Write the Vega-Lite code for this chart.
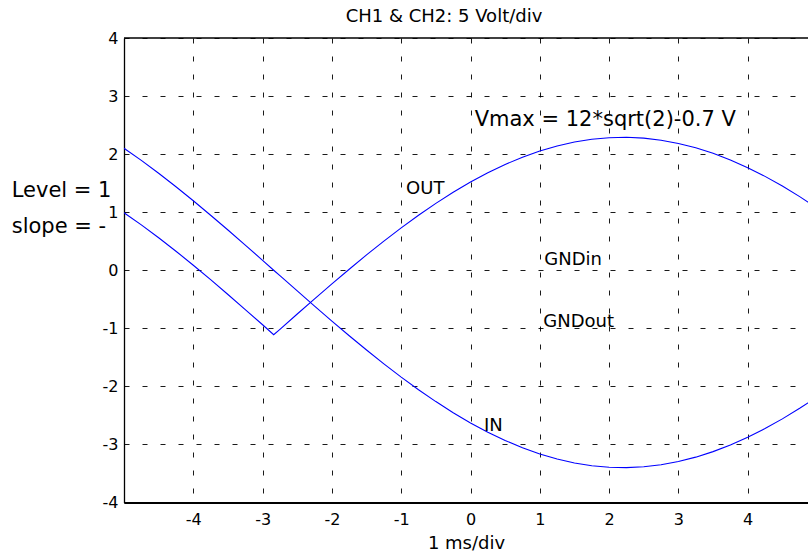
{
  "$schema": "https://vega.github.io/schema/vega-lite/v6.json",
  "autosize": "none",
  "padding": {"left": 124, "top": 38, "right": 0, "bottom": 54},
  "width": 684,
  "height": 464.5,
  "background": "white",
  "title": {
    "text": "CH1 & CH2: 5 Volt/div",
    "font": "DejaVu Sans",
    "fontSize": 18,
    "fontWeight": "normal",
    "color": "black",
    "anchor": "middle",
    "dx": -22,
    "offset": 4
  },
  "config": {
    "font": "DejaVu Sans",
    "view": {"stroke": null},
    "axis": {
      "labelFont": "DejaVu Sans",
      "labelFontSize": 16,
      "labelColor": "black",
      "labelExpr": "'' + datum.value",
      "titleFont": "DejaVu Sans",
      "titleFontSize": 18,
      "titleFontWeight": "normal",
      "titleColor": "black",
      "domainColor": "black",
      "gridColor": "black",
      "gridOpacity": 1,
      "gridWidth": 0.9,
      "gridDash": [5, 13],
      "ticks": false
    }
  },
  "datasets": {
    "traces": [
      {"t": -5, "v": 2.10, "s": "IN"}, {"t": -4.75, "v": 1.892, "s": "IN"}, {"t": -4.5, "v": 1.670, "s": "IN"}, {"t": -4.25, "v": 1.438, "s": "IN"},
      {"t": -4, "v": 1.197, "s": "IN"}, {"t": -3.75, "v": 0.948, "s": "IN"}, {"t": -3.5, "v": 0.693, "s": "IN"}, {"t": -3.25, "v": 0.433, "s": "IN"},
      {"t": -3, "v": 0.171, "s": "IN"}, {"t": -2.84, "v": 0.0, "s": "IN"}, {"t": -2.75, "v": -0.093, "s": "IN"}, {"t": -2.5, "v": -0.356, "s": "IN"},
      {"t": -2.25, "v": -0.618, "s": "IN"}, {"t": -2, "v": -0.876, "s": "IN"}, {"t": -1.75, "v": -1.128, "s": "IN"}, {"t": -1.5, "v": -1.374, "s": "IN"},
      {"t": -1.25, "v": -1.612, "s": "IN"}, {"t": -1, "v": -1.840, "s": "IN"}, {"t": -0.75, "v": -2.057, "s": "IN"}, {"t": -0.5, "v": -2.262, "s": "IN"},
      {"t": -0.25, "v": -2.453, "s": "IN"}, {"t": 0, "v": -2.629, "s": "IN"}, {"t": 0.25, "v": -2.789, "s": "IN"}, {"t": 0.5, "v": -2.932, "s": "IN"},
      {"t": 0.75, "v": -3.057, "s": "IN"}, {"t": 1, "v": -3.164, "s": "IN"}, {"t": 1.25, "v": -3.251, "s": "IN"}, {"t": 1.5, "v": -3.319, "s": "IN"},
      {"t": 1.75, "v": -3.366, "s": "IN"}, {"t": 2, "v": -3.393, "s": "IN"}, {"t": 2.25, "v": -3.400, "s": "IN"}, {"t": 2.5, "v": -3.385, "s": "IN"},
      {"t": 2.75, "v": -3.350, "s": "IN"}, {"t": 3, "v": -3.294, "s": "IN"}, {"t": 3.25, "v": -3.219, "s": "IN"}, {"t": 3.5, "v": -3.124, "s": "IN"},
      {"t": 3.75, "v": -3.010, "s": "IN"}, {"t": 4, "v": -2.877, "s": "IN"}, {"t": 4.25, "v": -2.727, "s": "IN"}, {"t": 4.5, "v": -2.560, "s": "IN"},
      {"t": 4.75, "v": -2.378, "s": "IN"}, {"t": 5, "v": -2.182, "s": "IN"},
      {"t": -5, "v": 0.99, "s": "OUT"}, {"t": -4.75, "v": 0.782, "s": "OUT"}, {"t": -4.5, "v": 0.560, "s": "OUT"}, {"t": -4.25, "v": 0.328, "s": "OUT"},
      {"t": -4, "v": 0.087, "s": "OUT"}, {"t": -3.75, "v": -0.162, "s": "OUT"}, {"t": -3.5, "v": -0.417, "s": "OUT"}, {"t": -3.25, "v": -0.677, "s": "OUT"},
      {"t": -3, "v": -0.939, "s": "OUT"}, {"t": -2.84, "v": -1.11, "s": "OUT"}, {"t": -2.75, "v": -1.017, "s": "OUT"}, {"t": -2.5, "v": -0.754, "s": "OUT"},
      {"t": -2.25, "v": -0.492, "s": "OUT"}, {"t": -2, "v": -0.234, "s": "OUT"}, {"t": -1.75, "v": 0.018, "s": "OUT"}, {"t": -1.5, "v": 0.264, "s": "OUT"},
      {"t": -1.25, "v": 0.502, "s": "OUT"}, {"t": -1, "v": 0.730, "s": "OUT"}, {"t": -0.75, "v": 0.947, "s": "OUT"}, {"t": -0.5, "v": 1.152, "s": "OUT"},
      {"t": -0.25, "v": 1.343, "s": "OUT"}, {"t": 0, "v": 1.519, "s": "OUT"}, {"t": 0.25, "v": 1.679, "s": "OUT"}, {"t": 0.5, "v": 1.822, "s": "OUT"},
      {"t": 0.75, "v": 1.947, "s": "OUT"}, {"t": 1, "v": 2.054, "s": "OUT"}, {"t": 1.25, "v": 2.141, "s": "OUT"}, {"t": 1.5, "v": 2.209, "s": "OUT"},
      {"t": 1.75, "v": 2.256, "s": "OUT"}, {"t": 2, "v": 2.283, "s": "OUT"}, {"t": 2.25, "v": 2.290, "s": "OUT"}, {"t": 2.5, "v": 2.275, "s": "OUT"},
      {"t": 2.75, "v": 2.240, "s": "OUT"}, {"t": 3, "v": 2.184, "s": "OUT"}, {"t": 3.25, "v": 2.109, "s": "OUT"}, {"t": 3.5, "v": 2.014, "s": "OUT"},
      {"t": 3.75, "v": 1.900, "s": "OUT"}, {"t": 4, "v": 1.767, "s": "OUT"}, {"t": 4.25, "v": 1.617, "s": "OUT"}, {"t": 4.5, "v": 1.450, "s": "OUT"},
      {"t": 4.75, "v": 1.268, "s": "OUT"}, {"t": 5, "v": 1.072, "s": "OUT"}
    ],
    "inlabels": [
      {"t": -0.93, "v": 1.313, "label": "OUT"},
      {"t": 1.065, "v": 0.083, "label": "GNDin"},
      {"t": 1.05, "v": -0.985, "label": "GNDout"},
      {"t": 0.195, "v": -2.76, "label": "IN"}
    ],
    "biglabels": [
      {"t": 0.06, "v": 2.477, "label": "Vmax = 12*sqrt(2)-0.7 V"},
      {"t": -6.62, "v": 1.261, "label": "Level = 1"},
      {"t": -6.62, "v": 0.641, "label": "slope = -"}
    ],
    "border": [{"v": 4}]
  },
  "layer": [
    {
      "data": {"name": "traces"},
      "mark": {"type": "line", "color": "#0000ff", "strokeWidth": 1.1, "clip": true},
      "encoding": {
        "x": {
          "field": "t", "type": "quantitative",
          "scale": {"domain": [-5, 4.87], "nice": false, "zero": false},
          "axis": {
            "title": "1 ms/div",
            "values": [-4, -3, -2, -1, 0, 1, 2, 3, 4],
            "domainWidth": 2,
            "labelPadding": 9,
            "titlePadding": 7
          }
        },
        "y": {
          "field": "v", "type": "quantitative",
          "scale": {"domain": [-4, 4], "nice": false, "zero": false},
          "axis": {
            "title": null,
            "values": [-4, -3, -2, -1, 0, 1, 2, 3, 4],
            "domainWidth": 1.3,
            "labelPadding": 6
          }
        },
        "detail": {"field": "s", "type": "nominal"}
      }
    },
    {
      "data": {"name": "border"},
      "mark": {"type": "rule", "color": "black", "strokeWidth": 1.3},
      "encoding": {"y": {"field": "v", "type": "quantitative"}}
    },
    {
      "data": {"name": "inlabels"},
      "mark": {"type": "text", "align": "left", "baseline": "alphabetic", "fontSize": 18, "color": "black", "font": "DejaVu Sans"},
      "encoding": {
        "x": {"field": "t", "type": "quantitative"},
        "y": {"field": "v", "type": "quantitative"},
        "text": {"field": "label"}
      }
    },
    {
      "data": {"name": "biglabels"},
      "mark": {"type": "text", "align": "left", "baseline": "alphabetic", "fontSize": 21, "color": "black", "font": "DejaVu Sans"},
      "encoding": {
        "x": {"field": "t", "type": "quantitative"},
        "y": {"field": "v", "type": "quantitative"},
        "text": {"field": "label"}
      }
    }
  ]
}
